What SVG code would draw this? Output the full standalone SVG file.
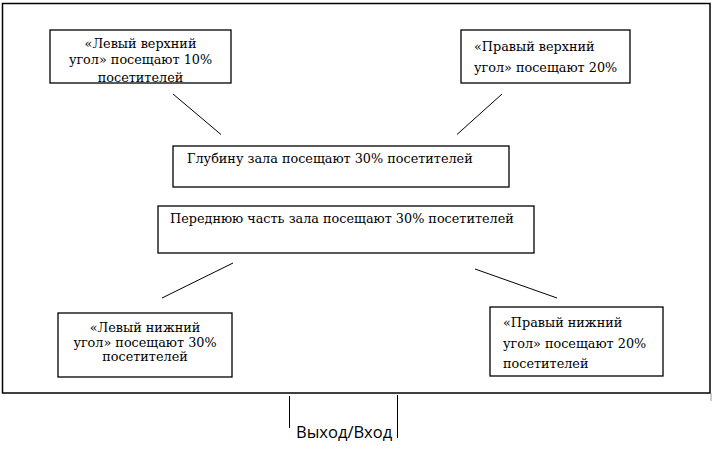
<svg xmlns="http://www.w3.org/2000/svg" width="712" height="466" viewBox="0 0 712 466">
<style>
.box{fill:#fff;stroke:#000;stroke-width:1.3}
.frame{fill:none;stroke:#000;stroke-width:1.5}
.ln{stroke:#000;stroke-width:1;fill:none}
.t{font-family:"DejaVu Serif","Liberation Serif",serif;font-size:12.8px;fill:#000}
.c{text-anchor:middle}
.s{font-family:"Open Sans","Liberation Sans",sans-serif;font-size:16.5px;fill:#000}
</style>
<defs>
<clipPath id="clipLT"><rect x="50" y="30" width="181" height="52.3"/></clipPath>
</defs>
<rect width="712" height="466" fill="#fff"/>
<rect class="frame" x="2.5" y="3.5" width="707.5" height="389.5"/>
<line x1="711" y1="393" x2="711" y2="401" stroke="#999" stroke-width="1"/>
<g id="connectors">
<line class="ln" x1="173" y1="94" x2="221" y2="134.5"/>
<line class="ln" x1="502" y1="94" x2="457" y2="134.5"/>
<line class="ln" x1="233" y1="263" x2="162" y2="298"/>
<line class="ln" x1="475" y1="269" x2="557" y2="298"/>
<line class="ln" x1="289.5" y1="396" x2="289.5" y2="428"/>
<line class="ln" x1="397.5" y1="395" x2="397.5" y2="438"/>
</g>
<g id="left-top">
<rect class="box" x="50" y="30" width="181" height="53"/>
<g clip-path="url(#clipLT)">
<text class="t c" x="140.5" y="48">«Левый верхний</text>
<text class="t c" x="140.5" y="64">угол» посещают 10%</text>
<text class="t c" x="140.5" y="82">посетителей</text>
</g>
</g>
<g id="right-top">
<rect class="box" x="461" y="30" width="169" height="53"/>
<text class="t" x="474" y="51">«Правый верхний</text>
<text class="t" x="474" y="72">угол» посещают 20%</text>
</g>
<g id="depth">
<rect class="box" x="173" y="146" width="336" height="41"/>
<text class="t" x="187" y="163">Глубину зала посещают 30% посетителей</text>
</g>
<g id="front">
<rect class="box" x="158" y="206" width="376" height="47"/>
<text class="t" x="170" y="223">Переднюю часть зала посещают 30% посетителей</text>
</g>
<g id="left-bottom">
<rect class="box" x="58" y="313" width="174" height="64"/>
<text class="t c" x="145" y="332">«Левый нижний</text>
<text class="t c" x="145" y="346.5">угол» посещают 30%</text>
<text class="t c" x="145" y="361">посетителей</text>
</g>
<g id="right-bottom">
<rect class="box" x="490" y="307" width="173" height="69"/>
<text class="t" x="503" y="327">«Правый нижний</text>
<text class="t" x="503" y="348">угол» посещают 20%</text>
<text class="t" x="503" y="368">посетителей</text>
</g>
<g id="exit">
<text class="s" x="296" y="438">Выход/Вход</text>
</g>
</svg>
